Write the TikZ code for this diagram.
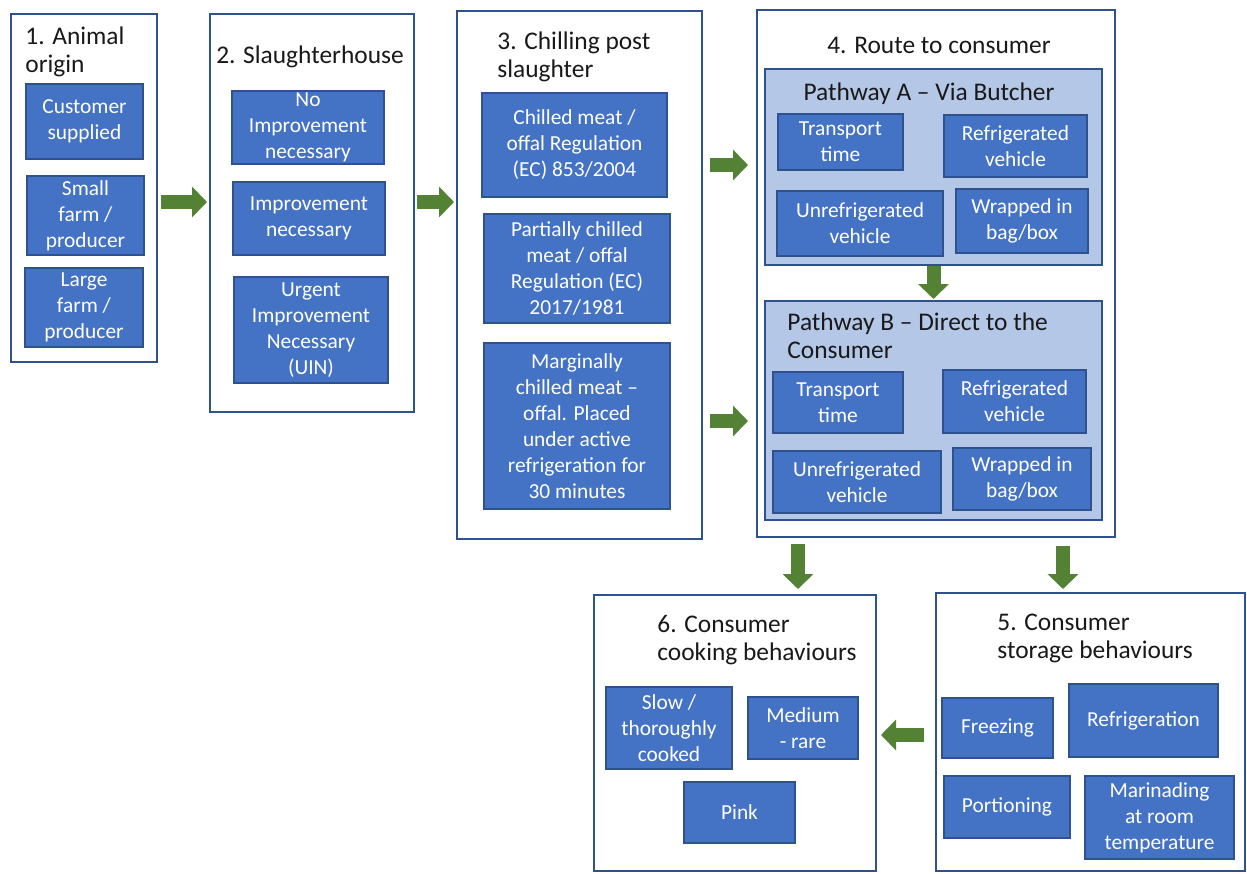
\documentclass[tikz,border=0pt]{standalone}
\usepackage{fontspec}
\setmainfont{Carlito}
\usepackage{tikz}
\usepackage{xcolor}
\usetikzlibrary{positioning, arrows.meta}
\definecolor{fcblue}{RGB}{68, 114, 196}
\definecolor{fcedge}{RGB}{47, 82, 143}
\definecolor{fclight}{RGB}{180, 199, 231}
\definecolor{fcgreen}{RGB}{84, 130, 53}
\definecolor{fctext}{RGB}{25, 25, 25}
\tikzset{
    boxsize/.style 2 args={minimum width=#1*0.5pt, minimum height=#2*0.5pt},
    stagebox/.style={draw=fcedge, line width=1pt, fill=white, inner sep=0pt},
    pathbox/.style={draw=fcedge, line width=1pt, fill=fclight, inner sep=0pt},
    itembox/.style={draw=fcedge, line width=0.8pt, fill=fcblue, text=white, align=center, inner sep=0pt, font=\fontsize{10.7}{13}\selectfont},
    titletext/.style={text=fctext, inner sep=0pt, align=left, font=\fontsize{12.7}{14}\selectfont},
    fatarrow/.style={draw=fcgreen, line width=7pt, -{Triangle[length=7.5pt, width=15pt]}}
}

\begin{document}
\begin{tikzpicture}[x=0.5pt, y=-0.5pt]
    \useasboundingbox[fill=white] (0,0) rectangle (1247,873);
    % stages
    \node[stagebox, boxsize={146}{348}] (origin) at (84,188) {};
    \node[stagebox, boxsize={204}{398}] (slaughter) at (312,213) {};
    \node[stagebox, boxsize={245}{528}] (chilling) at (579.5,275) {};
    \node[stagebox, boxsize={358}{527}] (route) at (936,273.5) {};
    \node[stagebox, boxsize={309}{278}] (storage) at (1090.5,732) {};
    \node[stagebox, boxsize={282}{276}] (cooking) at (735,733) {};
    \node[pathbox, boxsize={337}{196}] (pathA) at (933.5,167) {};
    \node[pathbox, boxsize={337}{219}] (pathB) at (933.5,410.5) {};

    % titles (base of last line)
    \node[titletext, anchor=base west] (t1) at (25,72) {1. Animal\\origin};
    \node[titletext, anchor=base] (t2) at (310,63) {2. Slaughterhouse};
    \node[titletext, anchor=base west] (t3) at (497,77) {3. Chilling post\\slaughter};
    \node[titletext, anchor=base] (t4) at (939,53) {4. Route to consumer};
    \node[titletext, anchor=base] (tA) at (929,100) {Pathway A -- Via Butcher};
    \node[titletext, anchor=base west] (tB) at (787,358) {Pathway B -- Direct to the\\Consumer};
    \node[titletext, anchor=base west] (t5) at (997,658) {5. Consumer\\storage behaviours};
    \node[titletext, anchor=base west] (t6) at (657,660) {6. Consumer\\cooking behaviours};

    % 1. animal origin
    \node[itembox, boxsize={117}{75}] (customer) at (84.5,121.5) {Customer\\supplied};
    \node[itembox, boxsize={117}{79}] (smallfarm) at (85.5,215.5) {Small\\farm /\\producer};
    \node[itembox, boxsize={118}{79}] (largefarm) at (84,307.5) {Large\\farm /\\producer};
    % 2. slaughterhouse
    \node[itembox, boxsize={152}{73}] (noimp) at (308,127.5) {No\\Improvement\\necessary};
    \node[itembox, boxsize={152}{73}] (imp) at (309,218.5) {Improvement\\necessary};
    \node[itembox, boxsize={154}{106}] (urgent) at (311,330) {Urgent\\Improvement\\Necessary\\(UIN)};
    % 3. chilling
    \node[itembox, boxsize={185}{104}] (chilled) at (574.5,145) {Chilled meat /\\offal Regulation\\(EC) 853/2004};
    \node[itembox, boxsize={186}{109}] (partial) at (577,268.5) {Partially chilled\\meat / offal\\Regulation (EC)\\2017/1981};
    \node[itembox, boxsize={186}{166}] (marginal) at (577,426) {Marginally\\chilled meat --\\offal. Placed\\under active\\refrigeration for\\30 minutes};
    % 4. route, pathway A and B
    \node[itembox, boxsize={125}{56}] (transA) at (840.5,142) {Transport\\time};
    \node[itembox, boxsize={143}{62}] (refA) at (1015.5,146) {Refrigerated\\vehicle};
    \node[itembox, boxsize={166}{65}] (unrefA) at (860,223.5) {Unrefrigerated\\vehicle};
    \node[itembox, boxsize={132}{64}] (wrapA) at (1022,221) {Wrapped in\\bag/box};
    \node[itembox, boxsize={130}{61}] (transB) at (838,402.5) {Transport\\time};
    \node[itembox, boxsize={143}{63}] (refB) at (1014.5,401.5) {Refrigerated\\vehicle};
    \node[itembox, boxsize={168}{62}] (unrefB) at (857,482) {Unrefrigerated\\vehicle};
    \node[itembox, boxsize={138}{62}] (wrapB) at (1022,479) {Wrapped in\\bag/box};
    % 5. storage
    \node[itembox, boxsize={111}{60}] (freezing) at (997.5,728) {Freezing};
    \node[itembox, boxsize={149}{73}] (refrig) at (1143.5,720.5) {Refrigeration};
    \node[itembox, boxsize={126}{62}] (portion) at (1007,807) {Portioning};
    \node[itembox, boxsize={149}{83}] (marinade) at (1159.5,817.5) {Marinading\\at room\\temperature};
    % 6. cooking
    \node[itembox, boxsize={126}{82}] (slow) at (669,728) {Slow /\\thoroughly\\cooked};
    \node[itembox, boxsize={110}{62}] (medium) at (803,728) {Medium\\- rare};
    \node[itembox, boxsize={111}{61}] (pink) at (739.5,812.5) {Pink};

    % arrows
    \draw[fatarrow, shorten <=1.5pt, shorten >=1pt] (origin.east |- 0,202) -- (slaughter.west |- 0,202);
    \draw[fatarrow, shorten <=1pt, shorten >=1pt] (slaughter.east |- 0,202) -- (chilling.west |- 0,202);
    \draw[fatarrow, shorten <=3.5pt, shorten >=4pt] (chilling.east |- 0,165) -- (route.west |- 0,165);
    \draw[fatarrow, shorten <=3.5pt, shorten >=4pt] (chilling.east |- 0,421) -- (route.west |- 0,421);
    \draw[fatarrow, shorten >=0.5pt] (pathA.south) -- (pathB.north);
    \draw[fatarrow, shorten <=3pt, shorten >=2.5pt] (route.south -| 798,0) -- (cooking.north -| 798,0);
    \draw[fatarrow, shorten <=4pt, shorten >=1.5pt] (route.south -| 1063,0) -- (storage.north -| 1063,0);
    \draw[fatarrow, shorten <=5.5pt, shorten >=2pt] (storage.west |- 0,735) -- (cooking.east |- 0,735);
\end{tikzpicture}
\end{document}
